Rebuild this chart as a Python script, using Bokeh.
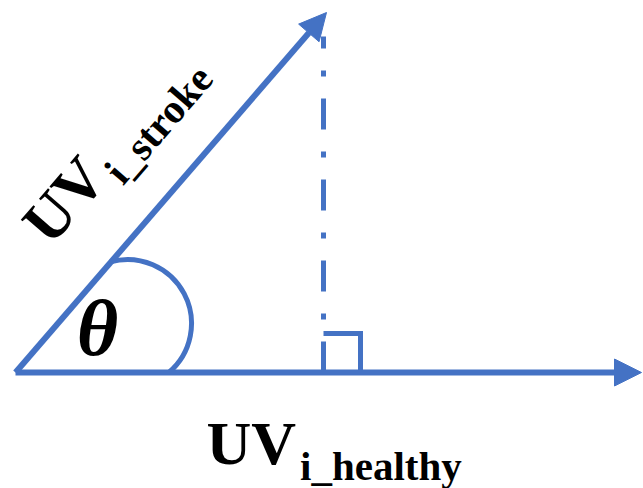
import numpy as np
from bokeh.plotting import figure
from bokeh.models import Range1d, Arrow, NormalHead
from bokeh.core.properties import value
from bokeh.embed import file_html
from bokeh.resources import INLINE

# ---- diagram geometry (reference pixel coordinates, y measured downward) ----
IMG_W, IMG_H = 643, 488
origin = (15, 372)
stroke_tip = (326, 12)
healthy_tip = (641, 372)
proj_top = 36
proj_x = 323
square_corner = (360, 333)
arc_center = (127, 323)
arc_radius = 64
arc_start_pt = (110, 262)
arc_end_pt = (168, 372)
theta_pos = (97, 327)
stroke_label_baseline = (50, 247)
healthy_label_baseline = (206, 464)

labels_main = ["UV", "UV"]
labels_sub = ["i_stroke", "i_healthy"]
theta_label = "\u03b8"

BLUE = "#4472C4"
FONT = "Liberation Serif"
MAIN_SIZE = 62
SUB_SIZE = 41
MID = 0.34  # em-box middle above the alphabetic baseline


def Y(py):
    return IMG_H - py


p = figure(width=IMG_W, height=IMG_H, x_range=Range1d(0, IMG_W), y_range=Range1d(0, IMG_H),
           output_backend="svg", toolbar_location=None, min_border=0,
           x_axis_location=None, y_axis_location=None)
p.grid.visible = False
p.outline_line_color = None
p.background_fill_color = "white"
p.border_fill_color = "white"

# vectors
ox, oy = origin[0], Y(origin[1])
sx, sy = stroke_tip[0], Y(stroke_tip[1])
ang = np.arctan2(sy - oy, sx - ox)
u = np.array([np.cos(ang), np.sin(ang)])
up = np.array([-np.sin(ang), np.cos(ang)])

# arrows
p.add_layout(Arrow(end=NormalHead(size=27, fill_color=BLUE, line_color=BLUE, line_width=1),
                   x_start=ox, y_start=oy, x_end=healthy_tip[0], y_end=Y(healthy_tip[1]),
                   line_width=6, line_color=BLUE))
p.add_layout(Arrow(end=NormalHead(size=27, fill_color=BLUE, line_color=BLUE, line_width=1),
                   x_start=ox, y_start=oy, x_end=sx, y_end=sy,
                   line_width=6, line_color=BLUE))

# projection dash-dot line
p.line([proj_x, proj_x], [Y(origin[1]), Y(proj_top)], line_width=5, line_color=BLUE,
       line_dash="31 22 6 22", line_cap="butt")

# right-angle mark
p.line([proj_x, square_corner[0], square_corner[0]],
       [Y(square_corner[1]), Y(square_corner[1]), Y(origin[1])],
       line_width=5, line_color=BLUE, line_join="miter")

# angle arc
cx, cy = arc_center[0], Y(arc_center[1])
a1 = np.arctan2(Y(arc_start_pt[1]) - cy, arc_start_pt[0] - cx)
a2 = np.arctan2(Y(arc_end_pt[1]) - cy, arc_end_pt[0] - cx)
p.arc(x=[cx], y=[cy], radius=arc_radius, start_angle=a1, end_angle=a2,
      direction="clock", line_width=5, line_color=BLUE)

# theta
p.text(x=[theta_pos[0]], y=[Y(theta_pos[1])], text=[theta_label],
       text_font=value(FONT), text_font_style="bold italic", text_font_size="80px",
       text_align="center", text_baseline="middle", text_color="black")


def label(base, direction, upv, main, sub, angle):
    main_w = 0.722 * 2 * MAIN_SIZE
    sub_shift = 15
    b_main = base
    b_sub = base + (main_w + 4) * direction - sub_shift * upv
    m_main = b_main + MID * MAIN_SIZE * upv
    m_sub = b_sub + MID * SUB_SIZE * upv
    p.text(x=[m_main[0]], y=[m_main[1]], text=[main], angle=angle,
           text_font=value(FONT), text_font_style="bold", text_font_size=f"{MAIN_SIZE}px",
           text_align="left", text_baseline="middle", text_color="black")
    p.text(x=[m_sub[0]], y=[m_sub[1]], text=[sub], angle=angle,
           text_font=value(FONT), text_font_style="bold", text_font_size=f"{SUB_SIZE}px",
           text_align="left", text_baseline="middle", text_color="black")


label(np.array([stroke_label_baseline[0], Y(stroke_label_baseline[1])], dtype=float),
      u, up, labels_main[0], labels_sub[0], ang)
label(np.array([healthy_label_baseline[0], Y(healthy_label_baseline[1])], dtype=float),
      np.array([1.0, 0.0]), np.array([0.0, 1.0]), labels_main[1], labels_sub[1], 0.0)

open("out.html", "w").write(file_html(p, INLINE))
